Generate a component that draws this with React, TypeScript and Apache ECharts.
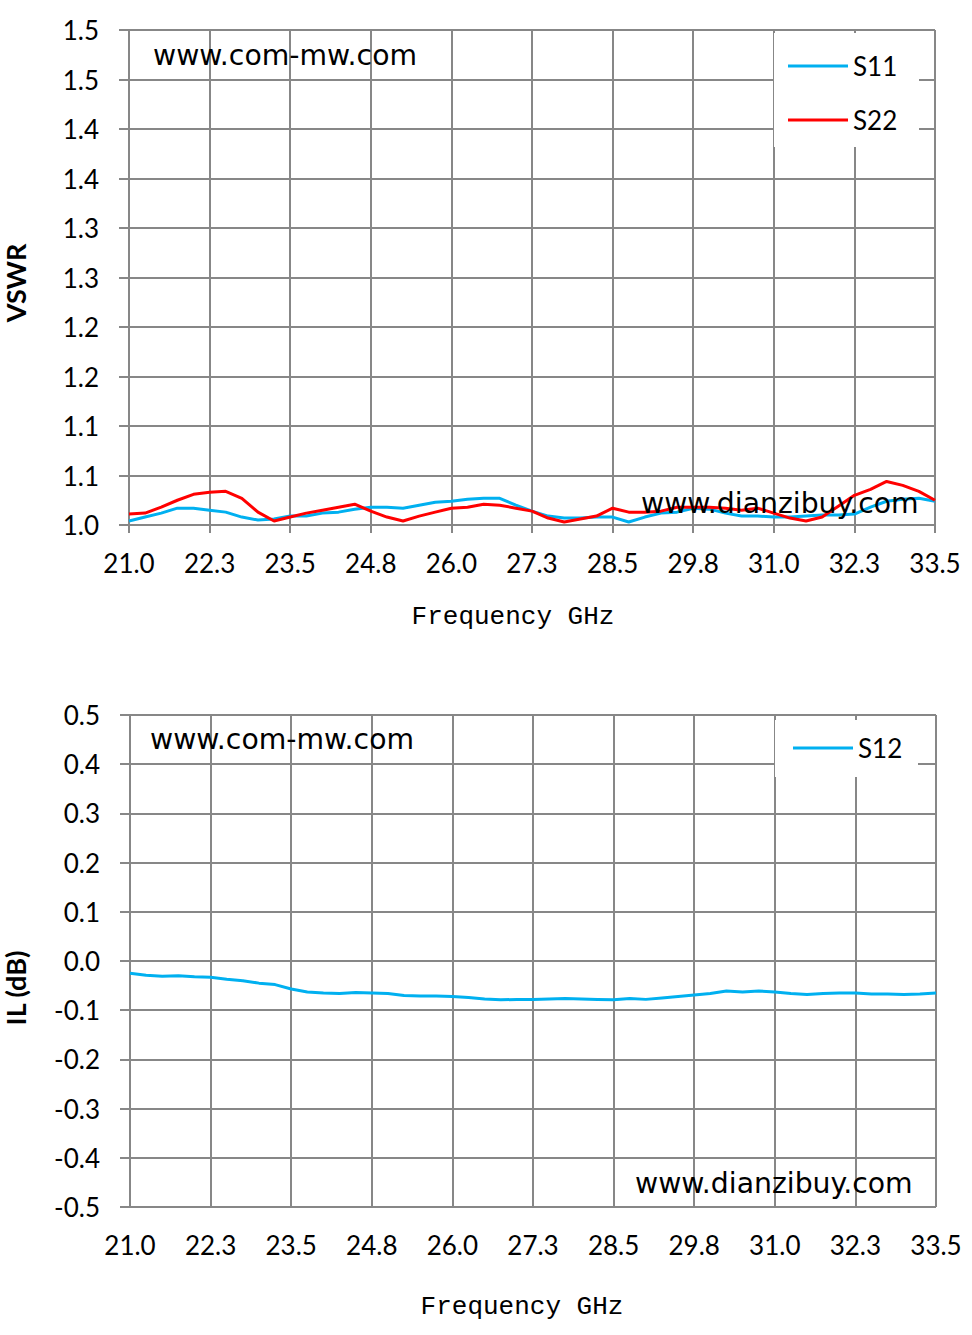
import React, { useEffect, useRef } from "react";
import * as echarts from "echarts";

const freq = [
  21.0, 21.25, 21.5, 21.75, 22.0, 22.25, 22.5, 22.75, 23.0, 23.25, 23.5, 23.75,
  24.0, 24.25, 24.5, 24.75, 25.0, 25.25, 25.5, 25.75, 26.0, 26.25, 26.5, 26.75,
  27.0, 27.25, 27.5, 27.75, 28.0, 28.25, 28.5, 28.75, 29.0, 29.25, 29.5, 29.75,
  30.0, 30.25, 30.5, 30.75, 31.0, 31.25, 31.5, 31.75, 32.0, 32.25, 32.5, 32.75,
  33.0, 33.25, 33.5,
];

const s11 = [
  1.004, 1.008, 1.012, 1.017, 1.017, 1.015, 1.013, 1.008, 1.005, 1.006, 1.009, 1.009,
  1.012, 1.013, 1.016, 1.018, 1.018, 1.017, 1.02, 1.023, 1.024, 1.026, 1.027, 1.027,
  1.02, 1.014, 1.009, 1.007, 1.007, 1.008, 1.008, 1.003, 1.008, 1.012, 1.013, 1.017,
  1.016, 1.012, 1.009, 1.009, 1.008, 1.008, 1.009, 1.01, 1.01, 1.011, 1.018, 1.024,
  1.026, 1.027, 1.024,
];

const s22 = [
  1.011, 1.012, 1.018, 1.025, 1.031, 1.033, 1.034, 1.027, 1.013, 1.004, 1.008, 1.012,
  1.015, 1.018, 1.021, 1.014, 1.008, 1.004, 1.009, 1.013, 1.017, 1.018, 1.021, 1.02,
  1.017, 1.014, 1.007, 1.003, 1.006, 1.009, 1.017, 1.013, 1.013, 1.014, 1.018, 1.018,
  1.018, 1.017, 1.015, 1.017, 1.012, 1.007, 1.004, 1.008, 1.019, 1.03, 1.036, 1.044,
  1.04, 1.034, 1.025,
];

const s12 = [
  -0.025, -0.029, -0.031, -0.03, -0.032, -0.033, -0.037, -0.04, -0.045, -0.048, -0.057, -0.063,
  -0.065, -0.066, -0.064, -0.065, -0.066, -0.07, -0.071, -0.071, -0.072, -0.074, -0.077, -0.079,
  -0.078, -0.078, -0.077, -0.076, -0.077, -0.078, -0.079, -0.076, -0.078, -0.075, -0.072, -0.069,
  -0.066, -0.061, -0.063, -0.061, -0.063, -0.066, -0.068, -0.066, -0.065, -0.065, -0.067, -0.067,
  -0.068, -0.067, -0.065,
];

const xTickLabels = ["21.0", "22.3", "23.5", "24.8", "26.0", "27.3", "28.5", "29.8", "31.0", "32.3", "33.5"];
const vswrTickLabels = ["1.0", "1.1", "1.1", "1.2", "1.2", "1.3", "1.3", "1.4", "1.4", "1.5", "1.5"];
const ilTickLabels = ["-0.5", "-0.4", "-0.3", "-0.2", "-0.1", "0.0", "0.1", "0.2", "0.3", "0.4", "0.5"];

const GRID_COLOR = "#878787";
const LABEL_FONT = "Lato, 'Open Sans', sans-serif";
const WM_FONT = "'DejaVu Sans', Verdana, sans-serif";
const TITLE_FONT = "'Liberation Mono', 'Courier New', monospace";

function xAxisOpt(gridIndex: number) {
  return {
    type: "value",
    gridIndex,
    min: 21,
    max: 33.5,
    interval: 1.25,
    axisLine: { show: true, lineStyle: { color: GRID_COLOR, width: 2 } },
    axisTick: { show: true, inside: false, length: 8, lineStyle: { color: GRID_COLOR, width: 2 } },
    splitLine: { show: true, lineStyle: { color: GRID_COLOR, width: 2 } },
    axisLabel: {
      color: "#000",
      fontFamily: LABEL_FONT,
      fontSize: 26,
      margin: 25,
      formatter: (v: number) => xTickLabels[Math.round((v - 21) / 1.25)] ?? "",
    },
  };
}

export default function App() {
  const ref = useRef<HTMLDivElement>(null);
  useEffect(() => {
    if (!ref.current) return;
    const chart = echarts.init(ref.current, undefined, { renderer: "svg" });
    const toPairs = (ys: number[]) => freq.map((f, i) => [f, ys[i]]);
    chart.setOption({
      animation: false,
      backgroundColor: "#fff",
      grid: [
        { left: 129, top: 30, width: 806, height: 495 },
        { left: 130, top: 715, width: 806, height: 492 },
      ],
      xAxis: [xAxisOpt(0), xAxisOpt(1)],
      yAxis: [
        {
          type: "value",
          gridIndex: 0,
          min: 1.0,
          max: 1.5,
          interval: 0.05,
          axisLine: { show: true, lineStyle: { color: GRID_COLOR, width: 2 } },
          axisTick: { show: true, length: 10, lineStyle: { color: GRID_COLOR, width: 2 } },
          splitLine: { show: true, lineStyle: { color: GRID_COLOR, width: 2 } },
          axisLabel: {
            color: "#000",
            fontFamily: LABEL_FONT,
            fontSize: 26,
            margin: 30,
            padding: [0, 0, 3, 0],
            formatter: (v: number) => vswrTickLabels[Math.round((v - 1) / 0.05)] ?? "",
          },
        },
        {
          type: "value",
          gridIndex: 1,
          min: -0.5,
          max: 0.5,
          interval: 0.1,
          axisLine: { show: true, onZero: false, lineStyle: { color: GRID_COLOR, width: 2 } },
          axisTick: { show: true, length: 10, lineStyle: { color: GRID_COLOR, width: 2 } },
          splitLine: { show: true, lineStyle: { color: GRID_COLOR, width: 2 } },
          axisLabel: {
            color: "#000",
            fontFamily: LABEL_FONT,
            fontSize: 26,
            margin: 30,
            padding: [0, 0, 3, 0],
            formatter: (v: number) => ilTickLabels[Math.round((v + 0.5) / 0.1)] ?? "",
          },
        },
      ],
      legend: [
        {
          data: ["S11", "S22"],
          orient: "vertical",
          left: 774,
          top: 33,
          backgroundColor: "#fff",
          padding: [18, 14, 12, 14],
          itemGap: 24,
          icon: "rect",
          itemWidth: 60,
          itemHeight: 3,
          itemStyle: { borderWidth: 0 },
          textStyle: { fontFamily: LABEL_FONT, fontSize: 26, color: "#000", lineHeight: 30, width: 52 },
          selectedMode: false,
        },
        {
          data: ["S12"],
          orient: "vertical",
          left: 775,
          top: 720,
          backgroundColor: "#fff",
          padding: [13, 12, 14, 18],
          icon: "rect",
          itemWidth: 60,
          itemHeight: 3,
          itemStyle: { borderWidth: 0 },
          textStyle: { fontFamily: LABEL_FONT, fontSize: 26, color: "#000", lineHeight: 30, width: 48 },
          selectedMode: false,
        },
      ],
      series: [
        {
          name: "S11",
          type: "line",
          xAxisIndex: 0,
          yAxisIndex: 0,
          data: toPairs(s11),
          showSymbol: false,
          symbol: "none",
          lineStyle: { color: "#00B0F0", width: 3 },
          itemStyle: { color: "#00B0F0" },
          z: 3,
        },
        {
          name: "S22",
          type: "line",
          xAxisIndex: 0,
          yAxisIndex: 0,
          data: toPairs(s22),
          showSymbol: false,
          symbol: "none",
          lineStyle: { color: "#FF0000", width: 3 },
          itemStyle: { color: "#FF0000" },
          z: 4,
        },
        {
          name: "S12",
          type: "line",
          xAxisIndex: 1,
          yAxisIndex: 1,
          data: toPairs(s12),
          showSymbol: false,
          symbol: "none",
          lineStyle: { color: "#00B0F0", width: 3 },
          itemStyle: { color: "#00B0F0" },
        },
      ],
      graphic: [
        { type: "text", z: 100, x: 153, y: 55, style: { text: "www.com-mw.com", font: `28.3px ${WM_FONT}`, fill: "#000", verticalAlign: "middle" } },
        { type: "text", z: 100, x: 641, y: 503, style: { text: "www.dianzibuy.com", font: `28.3px ${WM_FONT}`, fill: "#000", verticalAlign: "middle" } },
        { type: "text", z: 100, x: 150, y: 739, style: { text: "www.com-mw.com", font: `28.3px ${WM_FONT}`, fill: "#000", verticalAlign: "middle" } },
        { type: "text", z: 100, x: 635, y: 1183, style: { text: "www.dianzibuy.com", font: `28.3px ${WM_FONT}`, fill: "#000", verticalAlign: "middle" } },
        { type: "text", z: 100, x: 513, y: 617, style: { text: "Frequency GHz", font: `26px ${TITLE_FONT}`, fill: "#000", align: "center", verticalAlign: "middle" } },
        { type: "text", z: 100, x: 522, y: 1307, style: { text: "Frequency GHz", font: `26px ${TITLE_FONT}`, fill: "#000", align: "center", verticalAlign: "middle" } },
        { type: "text", z: 100, x: 15, y: 283, rotation: Math.PI / 2, style: { text: "VSWR", font: `bold 27px ${LABEL_FONT}`, fill: "#000", align: "center", verticalAlign: "middle" } },
        { type: "text", z: 100, x: 15, y: 988, rotation: Math.PI / 2, style: { text: "IL (dB)", font: `bold 27px ${LABEL_FONT}`, fill: "#000", align: "center", verticalAlign: "middle" } },
      ],
    });
    return () => chart.dispose();
  }, []);
  return (
    <div
      ref={ref}
      style={{ position: "absolute", left: 0, top: 0, width: 972, height: 1335, background: "#fff" }}
    />
  );
}
